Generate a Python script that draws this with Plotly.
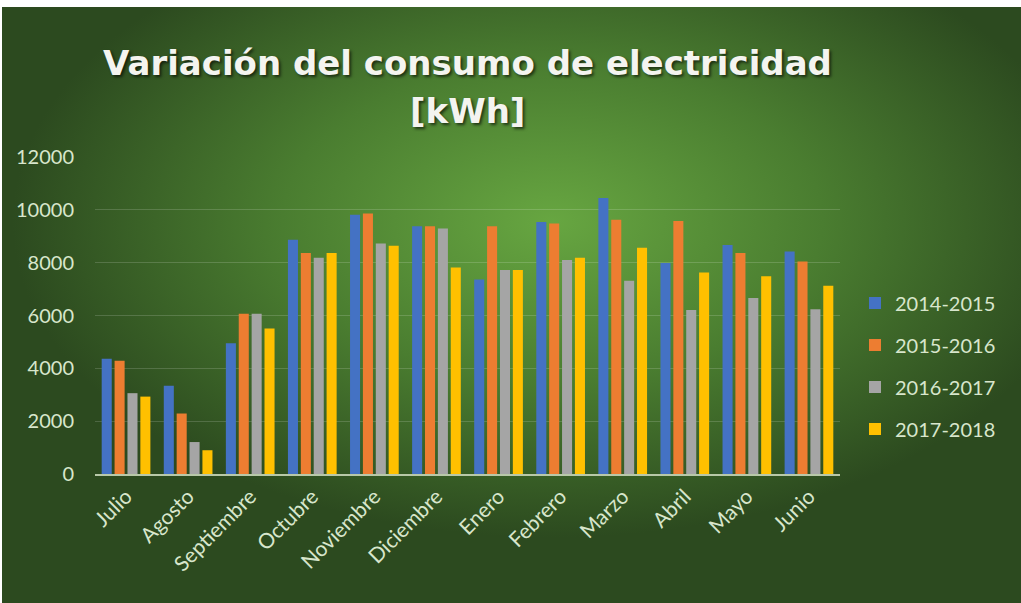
import base64
import plotly.graph_objects as go

months = ["Julio", "Agosto", "Septiembre", "Octubre", "Noviembre", "Diciembre",
          "Enero", "Febrero", "Marzo", "Abril", "Mayo", "Junio"]
s2014_2015 = [4360, 3340, 4950, 8870, 9810, 9380, 7360, 9540, 10450, 7990, 8670, 8420]
s2015_2016 = [4290, 2290, 6070, 8370, 9860, 9380, 9380, 9480, 9620, 9580, 8370, 8040]
s2016_2017 = [3060, 1210, 6070, 8190, 8730, 9290, 7720, 8100, 7320, 6210, 6660, 6240]
s2017_2018 = [2930, 900, 5510, 8370, 8640, 7820, 7720, 8190, 8560, 7630, 7490, 7130]
series_names = ["2014-2015", "2015-2016", "2016-2017", "2017-2018"]
y_ticks = [0, 2000, 4000, 6000, 8000, 10000, 12000]
title_line1 = "Variación del consumo de electricidad"
title_line2 = "[kWh]"

colors = ["#4472C4", "#ED7D31", "#A5A5A5", "#FFC000"]
series = [s2014_2015, s2015_2016, s2016_2017, s2017_2018]

W, H = 1021, 603
L, R, T, B = 95, 181, 157, 129
pw, ph = W - L - R, H - T - B


def py(pix):
    """pixel row (from top) -> paper y"""
    return (H - B - pix) / ph


def px(pix):
    return (pix - L) / pw


svg = (
    '<svg xmlns="http://www.w3.org/2000/svg" width="1019" height="596" preserveAspectRatio="none">'
    '<defs><radialGradient id="g" cx="0.54" cy="0.36" r="0.53">'
    '<stop offset="0" stop-color="#67a641"/>'
    '<stop offset="0.5" stop-color="#4a7d30"/>'
    '<stop offset="1" stop-color="#2c4a1f"/>'
    '</radialGradient></defs>'
    '<rect width="1019" height="596" fill="url(#g)"/></svg>'
)
bg_src = "data:image/svg+xml;base64," + base64.b64encode(svg.encode()).decode()

fig = go.Figure()
for name, vals, col in zip(series_names, series, colors):
    fig.add_trace(go.Bar(
        x=months, y=vals, name=name, legendgroup=name,
        marker=dict(color=col, line=dict(width=0)),
    ))

txt = "#d8e6cc"
title_font = dict(family="DejaVu Sans", size=34, color="#f4f4f0",
                  weight="bold", shadow="2px 2px 3px rgba(0,0,0,0.6)")
fig.update_layout(
    width=W, height=H,
    margin=dict(l=L, r=R, t=T, b=B),
    paper_bgcolor="white",
    plot_bgcolor="rgba(0,0,0,0)",
    barmode="group", bargap=0.17, bargroupgap=0.22,
    font=dict(family="Lato", color=txt, size=20),
    xaxis=dict(
        tickangle=-45, tickfont=dict(size=21, color=txt),
        showgrid=False, showline=True, linecolor="#b8c8a8", linewidth=2,
        ticks="",
    ),
    yaxis=dict(
        range=[0, 12000], tickvals=y_ticks, tickformat="d",
        tickfont=dict(size=20, color=txt),
        showgrid=True, gridcolor="rgba(255,255,255,0.16)", gridwidth=1,
        zeroline=False, showline=False, ticks="", ticklabelstandoff=20,
    ),
    legend=dict(
        x=px(855), xanchor="left", y=py(366), yanchor="middle",
        font=dict(size=20, color=txt), bgcolor="rgba(0,0,0,0)",
        tracegroupgap=13, itemclick=False,
    ),
    annotations=[
        dict(text=title_line1, xref="paper", yref="paper", x=0.5, y=py(63),
             xanchor="center", yanchor="middle", showarrow=False, font=title_font),
        dict(text=title_line2, xref="paper", yref="paper", x=0.5, y=py(111),
             xanchor="center", yanchor="middle", showarrow=False, font=title_font),
    ],
    images=[dict(
        source=bg_src, xref="paper", yref="paper",
        x=-(L - 2) / pw, y=1 + (T - 7) / ph,
        sizex=(W - 2) / pw, sizey=(H - 7) / ph,
        sizing="stretch", layer="below", xanchor="left", yanchor="top",
    )],
    showlegend=True,
)

fig.write_html("out.html", config={"displayModeBar": False},
               post_script="document.body.style.margin='0px';")
